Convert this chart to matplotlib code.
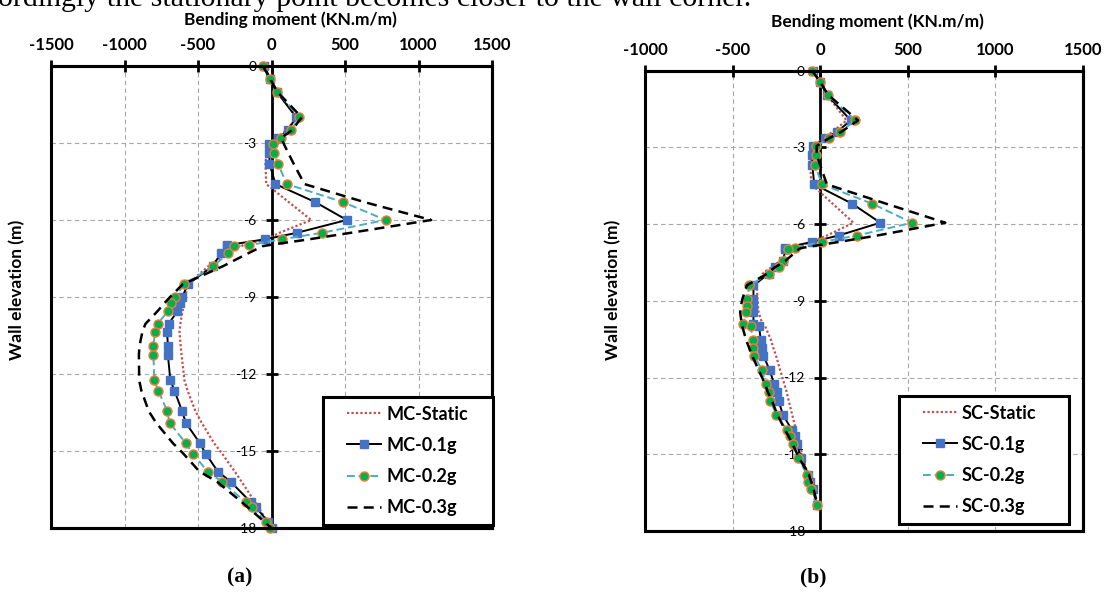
import matplotlib
matplotlib.use('Agg')
import matplotlib.pyplot as plt
from matplotlib.patches import Rectangle
from matplotlib.lines import Line2D
from matplotlib.legend_handler import HandlerLine2D

plt.rcParams['font.family'] = ['Lato', 'DejaVu Sans']

# ---------------- data ----------------
y_ticks = [0, -3, -6, -9, -12, -15, -18]
x_ticks_mc = [-1500, -1000, -500, 0, 500, 1000, 1500]
x_ticks_sc = [-1000, -500, 0, 500, 1000, 1500]

mc_labels = ['MC-Static', 'MC-0.1g', 'MC-0.2g', 'MC-0.3g']
sc_labels = ['SC-Static', 'SC-0.1g', 'SC-0.2g', 'SC-0.3g']

mc_depth = [0, -0.5, -1.0, -2.0, -2.5, -2.8, -3.05, -3.4, -3.8, -4.6, -5.3, -6.0, -6.5,
            -6.75, -6.98, -7.02, -7.3, -7.8, -8.5, -9.0, -9.25, -9.55, -10.05, -10.35,
            -10.9, -11.25, -12.25, -12.65, -13.45, -13.9, -14.7, -15.1, -15.8, -16.2,
            -17.0, -17.2, -17.75, -18.0]
mc_static = [-59, -9, 35, 175, 100, 40, -10, -35, -41, -36, 117, 270, 54, -34, -190, -210,
             -300, -430, -569, -586, -595, -605, -620, -626, -618, -612, -592, -571, -517,
             -475, -390, -336, -250, -203, -111, -89, -28, 0]
mc_01g = [-48, -9, 35, 168, 111, 47, -20, -14, -14, 27, 297, 512, 172, -43, -300, -306,
          -345, -400, -569, -607, -625, -640, -700, -710, -705, -705, -688, -660, -608,
          -583, -487, -448, -365, -277, -140, -104, -25, 0]
mc_02g = [-59, -9, 39, 190, 134, 66, 9, 20, 43, 104, 485, 776, 342, 70, -150, -252, -297,
          -395, -594, -655, -682, -705, -775, -791, -805, -803, -798, -769, -710, -693,
          -583, -535, -435, -336, -175, -132, -36, -9]
mc_03g = [-59, -9, 39, 205, 140, 66, 85, 115, 150, 224, 630, 1086, 538, 258, -20, -60,
          -160, -330, -603, -690, -730, -775, -858, -878, -898, -902, -900, -885, -835,
          -785, -670, -600, -490, -370, -200, -160, -50, 0]

sc_depth = [0, -0.45, -0.95, -1.95, -2.4, -2.65, -2.95, -3.3, -3.7, -4.45, -5.2, -5.95,
            -6.45, -6.7, -6.93, -6.97, -7.45, -7.7, -7.95, -8.4, -8.95, -9.2, -9.45, -9.9,
            -10.0, -10.55, -10.85, -11.15, -11.7, -12.25, -12.55, -12.9, -13.45, -14.05,
            -14.3, -14.6, -15.15, -15.8, -16.1, -16.35, -17.0]
sc_static = [-47, 0, 38, 150, 70, 20, -40, -50, -57, -50, 70, 190, 38, -51, -140, -160,
             -230, -280, -330, -362, -358, -355, -352, -330, -314, -280, -267, -252, -229,
             -205, -192, -180, -160, -138, -128, -117, -98, -70, -55, -45, -15]
sc_01g = [-40, 0, 38, 175, 95, 30, -40, -45, -45, -34, 181, 343, 105, -47, -200, -200,
          -210, -257, -295, -381, -381, -381, -381, -381, -349, -339, -333, -324, -289,
          -263, -248, -238, -213, -162, -143, -133, -109, -67, -57, -43, -19]
sc_02g = [-47, 0, 42, 200, 114, 48, -23, -25, -29, 10, 295, 524, 210, 10, -143, -181,
          -213, -238, -290, -406, -415, -419, -423, -438, -396, -385, -385, -377, -333,
          -309, -295, -286, -250, -190, -171, -156, -124, -76, -67, -53, -21]
sc_03g = [-47, 0, 45, 215, 120, 50, -20, -20, 0, 38, 373, 714, 326, 107, -100, -120,
          -200, -260, -305, -419, -445, -452, -457, -448, -445, -422, -405, -388, -352,
          -315, -300, -276, -245, -200, -180, -158, -120, -65, -50, -38, -15]

# ---------------- styles ----------------
styles = [
    dict(color='#C0504D', lw=1.6, ls=(0, (1, 1))),
    dict(color='black', lw=1.4, ls='-', marker='s', ms=6, mfc='#4472C4', mec='#4472C4'),
    dict(color='#4BACC6', lw=1.4, ls=(0, (4, 2)), marker='o', ms=6.5, mfc='#00B050',
         mec='#ED7D31', mew=1.0),
    dict(color='black', lw=1.8, ls=(0, (4, 2.5))),
]

fig = plt.figure(figsize=(11.1, 5.97), dpi=100)
W, H = 1110, 597
ax1 = fig.add_axes([51 / W, 1 - 528 / H, 441 / W, 462 / H])
ax2 = fig.add_axes([645 / W, 1 - 531 / H, 438 / W, 460.5 / H])

TICKFS = 12
FONT_W = 'bold'
LEGFS = 13


def panel(ax, depth, series, labels, xlim, xticks, leg_bbox):
    for vals, lab, st in zip(series, labels, styles):
        ax.plot(vals, depth, label=lab, clip_on=False, zorder=3, **st)
    ax.set_xlim(*xlim)
    ax.set_ylim(-18, 0)
    ax.set_xticks(xticks)
    ax.set_xticklabels([str(t) for t in xticks], fontsize=TICKFS, fontweight=FONT_W)
    ax.set_yticks(y_ticks)
    ax.set_yticklabels([str(t) for t in y_ticks], fontsize=TICKFS, fontweight=FONT_W)
    ax.xaxis.tick_top()
    ax.spines['left'].set_position(('data', 0))
    for s in ['left', 'top', 'right', 'bottom']:
        ax.spines[s].set_linewidth(2.2)
        ax.spines[s].set_color('black')
    ax.spines['left'].set_linewidth(2.0)
    ax.tick_params(axis='x', direction='inout', length=8, width=2, pad=5, colors='black')
    ax.tick_params(axis='y', direction='inout', length=8, width=2, pad=7, colors='black')
    ax.grid(True, ls=(0, (4, 3)), color='#A6A6A6', lw=0.8)
    ax.set_axisbelow(True)
    ax.add_patch(Rectangle((0, 0), 1, 1, transform=ax.transAxes, fill=False, lw=2.2,
                           ec='black', zorder=4, clip_on=False))
    fs_px = LEGFS * 100 / 72.0
    leg = ax.legend(loc='lower left', bbox_to_anchor=leg_bbox, mode='expand',
                    borderaxespad=0, fancybox=False, edgecolor='black', framealpha=1,
                    prop=dict(family=['Lato', 'DejaVu Sans'], weight='bold', size=LEGFS),
                    handlelength=(15 + 34) / fs_px, handletextpad=5 / fs_px,
                    labelspacing=0.78, borderpad=0.5, numpoints=1,
                    handler_map={Line2D: HandlerLine2D(xpad=15 / fs_px)})
    leg.get_frame().set_linewidth(2.2)
    leg.set_zorder(6)


panel(ax1, mc_depth, [mc_static, mc_01g, mc_02g, mc_03g], mc_labels, (-1500, 1500),
      x_ticks_mc, ((323 - 51) / 441, 0.0065, 170 / 441, 0.2))
panel(ax2, sc_depth, [sc_static, sc_01g, sc_02g, sc_03g], sc_labels, (-1000, 1500),
      x_ticks_sc, ((899 - 645) / 438, 0.0152, 170 / 438, 0.2))

# titles / axis labels
fig.text(290 / W, 1 - 20 / H, 'Bending moment (KN.m/m)', ha='center', va='center',
         fontsize=12.5, fontweight='bold')
fig.text(877 / W, 1 - 22 / H, 'Bending moment (KN.m/m)', ha='center', va='center',
         fontsize=12.5, fontweight='bold')
fig.text(17 / W, 1 - 290 / H, 'Wall elevation (m)', ha='center', va='center',
         rotation=90, fontsize=12.5, fontweight='bold')
fig.text(613 / W, 1 - 290 / H, 'Wall elevation (m)', ha='center', va='center',
         rotation=90, fontsize=12.5, fontweight='bold')

# panel captions
fig.text(240 / W, 1 - 577 / H, '(a)', ha='center', va='center', fontsize=15.5,
         fontweight='bold', family='Liberation Serif')
fig.text(813 / W, 1 - 577 / H, '(b)', ha='center', va='center', fontsize=15.5,
         fontweight='bold', family='Liberation Serif')

# cut-off running text line from the page above the figure
fig.text(-0.002, 1 - 6 / H, 'ordingly the stationary point becomes closer to the wall corner.',
         ha='left', va='baseline', fontsize=21.5, family='Liberation Serif')

fig.savefig('out.png', dpi=100)
